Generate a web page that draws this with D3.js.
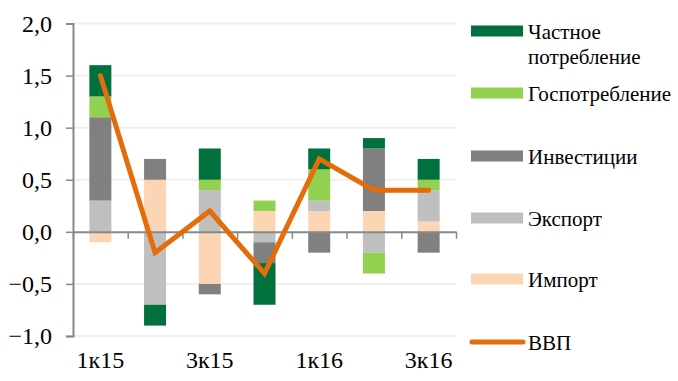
<!DOCTYPE html>
<html>
<head>
<meta charset="utf-8">
<script src="https://cdn.jsdelivr.net/npm/d3@7"></script>
</head>
<body style="margin:0">
<script>
// quarters and contributions to GDP growth, p.p.
const quarters = ['1к15', '2к15', '3к15', '4к15', '1к16', '2к16', '3к16'];
const privateCons = [0.3, -0.2, 0.3, -0.4, 0.2, 0.1, 0.2];
const govCons = [0.2, 0.0, 0.1, 0.1, 0.3, -0.2, 0.1];
const investment = [0.8, 0.2, -0.1, -0.2, -0.2, 0.6, -0.2];
const exportsC = [0.3, -0.7, 0.4, -0.1, 0.1, -0.2, 0.3];
const importsC = [-0.1, 0.5, -0.5, 0.2, 0.2, 0.2, 0.1];
const gdp = [1.5, -0.2, 0.2, -0.4, 0.7, 0.4, 0.4];
const yTicks = [-1, -0.5, 0, 0.5, 1, 1.5, 2];

// stacking order from zero outwards
const series = [
    {key: 'imports', label: 'Импорт', values: importsC, color: '#fcd5b5'},
    {key: 'exports', label: 'Экспорт', values: exportsC, color: '#bfbfbf'},
    {key: 'investment', label: 'Инвестиции', values: investment, color: '#808080'},
    {key: 'gov', label: 'Госпотребление', values: govCons, color: '#92d050'},
    {key: 'private', label: ['Частное', 'потребление'], values: privateCons, color: '#00703c'}
];
const lineColor = '#e46c0a';

const width = 678, height = 381;
const margin = {left: 73, right: 222, top: 23.5, bottom: 45};

const svg = d3.select('body').append('svg')
    .attr('width', width)
    .attr('height', height)
    .attr('font-family', 'Times New Roman');

const rows = quarters.map((q, i) => {
    let r = {q: q};
    series.forEach(s => r[s.key] = s.values[i]);
    return r;
});

const stacked = d3.stack()
    .keys(series.map(s => s.key))
    .offset(d3.stackOffsetDiverging)(rows);

const x = d3.scaleBand()
    .domain(quarters)
    .range([margin.left, width - margin.right]);

const xIdx = d3.scaleLinear()
    .domain([0, quarters.length])
    .range([margin.left, width - margin.right]);

const y = d3.scaleLinear()
    .domain([-1, 2])
    .range([height - margin.bottom, margin.top]);

// gridlines
svg.append('g')
    .selectAll('line')
    .data(yTicks.filter(t => t !== 0))
    .join('line')
    .attr('x1', margin.left)
    .attr('x2', width - margin.right)
    .attr('y1', d => y(d))
    .attr('y2', d => y(d))
    .attr('stroke', '#efefef')
    .attr('stroke-width', 2);

// bars
const barW = 22;
svg.append('g')
    .selectAll('g')
    .data(stacked)
    .join('g')
    .attr('fill', (d, i) => series[i].color)
    .selectAll('rect')
    .data(d => d)
    .join('rect')
    .attr('x', d => x(d.data.q) + x.bandwidth() / 2 - barW / 2)
    .attr('width', barW)
    .attr('y', d => y(Math.max(d[0], d[1])))
    .attr('height', d => Math.abs(y(d[0]) - y(d[1])));

// y axis
const yAxis = svg.append('g')
    .attr('transform', `translate(${margin.left},0)`)
    .call(d3.axisLeft(y)
        .tickValues(yTicks)
        .tickSize(7)
        .tickPadding(14)
        .tickFormat(d => d3.format('.1f')(d).replace('.', ',')))
    .attr('font-family', null)
    .attr('font-size', 24);
yAxis.select('.domain').attr('stroke', '#888').attr('stroke-width', 2);
yAxis.selectAll('.tick line').attr('stroke', '#888').attr('stroke-width', 1.5);
yAxis.selectAll('.tick text').attr('fill', '#000');

// x axis: tick marks at band edges
const xAxis = svg.append('g')
    .attr('transform', `translate(0,${y(0)})`)
    .call(d3.axisBottom(xIdx)
        .tickValues(d3.range(quarters.length + 1))
        .tickSize(7)
        .tickSizeOuter(0)
        .tickFormat(''));
xAxis.select('.domain').attr('stroke', '#888').attr('stroke-width', 2);
xAxis.selectAll('.tick line').attr('stroke', '#888').attr('stroke-width', 1.5);

// x labels along the bottom
const xLabels = svg.append('g')
    .attr('transform', `translate(0,${height - margin.bottom + 3})`)
    .call(d3.axisBottom(x)
        .tickSize(0)
        .tickPadding(12)
        .tickFormat((d, i) => i % 2 === 0 ? d : ''))
    .attr('font-family', null)
    .attr('font-size', 24);
xLabels.select('.domain').remove();
xLabels.selectAll('.tick text').attr('fill', '#000');

// GDP line
const line = d3.line()
    .x((d, i) => x(quarters[i]) + x.bandwidth() / 2)
    .y(d => y(d));

svg.append('path')
    .datum(gdp)
    .attr('d', line)
    .attr('fill', 'none')
    .attr('stroke', lineColor)
    .attr('stroke-width', 5)
    .attr('stroke-linejoin', 'miter')
    .attr('stroke-linecap', 'round');

// legend
const legendItems = series.slice().reverse().map(s => ({label: s.label, color: s.color, type: 'rect'}));
legendItems.push({label: 'ВВП', color: lineColor, type: 'line'});
const legendY = [31, 93, 156, 218, 279, 342];

const legend = svg.append('g')
    .attr('font-size', 21)
    .selectAll('g')
    .data(legendItems)
    .join('g')
    .attr('transform', (d, i) => `translate(471,${legendY[i]})`);

legend.filter(d => d.type === 'rect')
    .append('rect')
    .attr('x', 0)
    .attr('y', -5.5)
    .attr('width', 52)
    .attr('height', 11)
    .attr('fill', d => d.color);

legend.filter(d => d.type === 'line')
    .append('line')
    .attr('x1', 1)
    .attr('x2', 52)
    .attr('stroke', d => d.color)
    .attr('stroke-width', 5)
    .attr('stroke-linecap', 'round');

// one text per line
legend.each(function(d) {
    const lines = Array.isArray(d.label) ? d.label : [d.label];
    d3.select(this).selectAll('text')
        .data(lines)
        .join('text')
        .attr('x', 57)
        .attr('y', (t, i) => 7.5 + i * 25)
        .attr('fill', '#000')
        .text(t => t);
});
</script>
</body>
</html>
